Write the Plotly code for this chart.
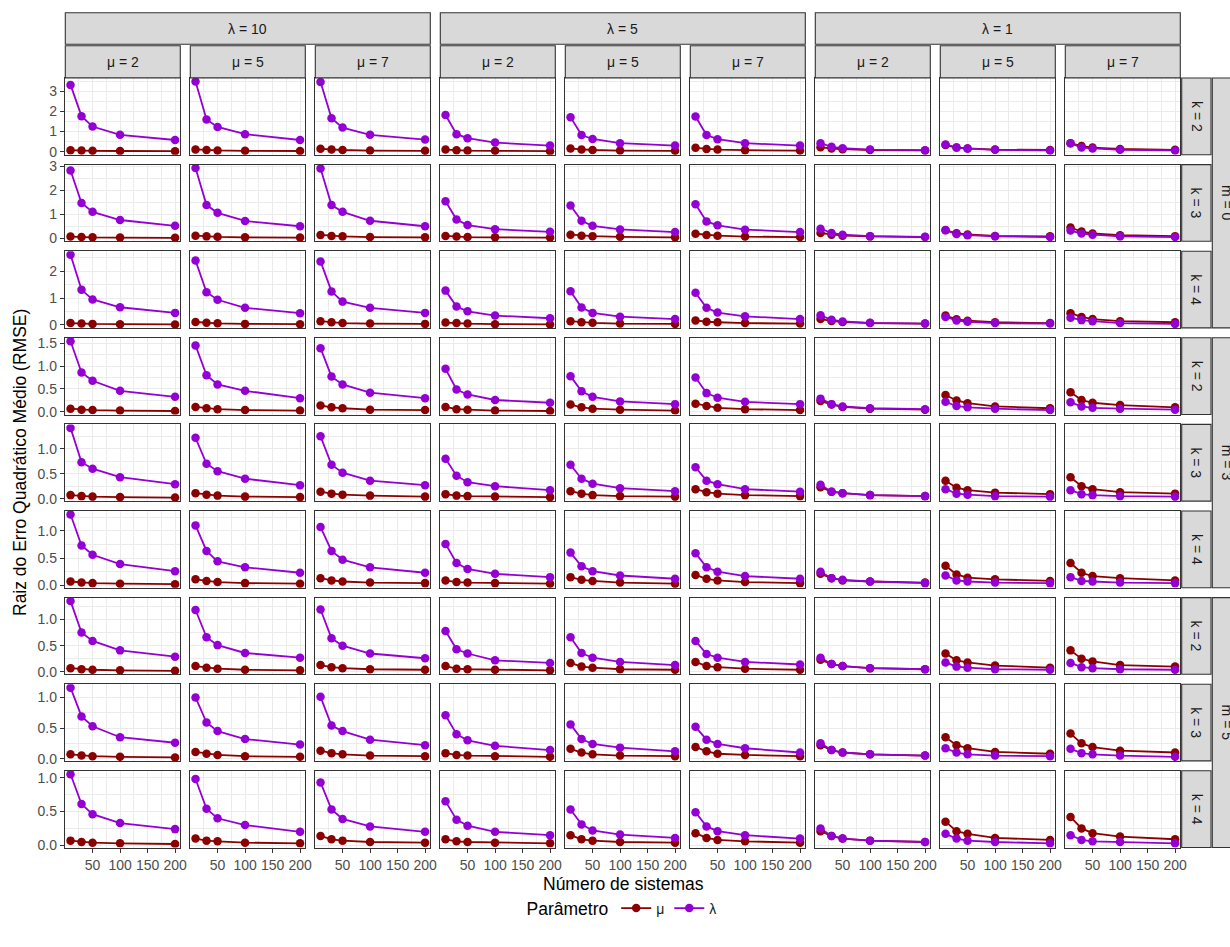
import plotly.graph_objects as go

# ---------------------------------------------------------------------------
# Data: RMSE of the estimators of mu and lambda by number of systems.
# Each array is indexed [row][column][point]; rows follow (m, k) =
# (0,2),(0,3),(0,4),(3,2),(3,3),(3,4),(5,2),(5,3),(5,4); columns follow mu = 2, 5, 7.
# ---------------------------------------------------------------------------
n_sistemas = [10, 30, 50, 100, 200]

lambda_levels = ["10", "5", "1"]
mu_levels = ["2", "5", "7"]
m_levels = ["0", "3", "5"]
k_levels = ["2", "3", "4"]

# lambda = 10
rmse_mu_l10 = [
    [[0.07, 0.05, 0.04, 0.03, 0.02], [0.11, 0.08, 0.06, 0.04, 0.03], [0.14, 0.10, 0.08, 0.05, 0.04]],
    [[0.07, 0.05, 0.04, 0.03, 0.02], [0.11, 0.08, 0.06, 0.04, 0.03], [0.14, 0.10, 0.08, 0.05, 0.04]],
    [[0.07, 0.05, 0.04, 0.03, 0.02], [0.11, 0.08, 0.06, 0.04, 0.03], [0.14, 0.10, 0.07, 0.05, 0.04]],
    [[0.07, 0.05, 0.04, 0.03, 0.02], [0.11, 0.08, 0.06, 0.04, 0.03], [0.14, 0.10, 0.08, 0.05, 0.04]],
    [[0.07, 0.05, 0.04, 0.03, 0.02], [0.11, 0.08, 0.06, 0.04, 0.03], [0.14, 0.10, 0.08, 0.06, 0.04]],
    [[0.07, 0.05, 0.04, 0.03, 0.02], [0.11, 0.08, 0.06, 0.04, 0.03], [0.13, 0.09, 0.07, 0.05, 0.04]],
    [[0.07, 0.05, 0.04, 0.03, 0.02], [0.11, 0.08, 0.06, 0.04, 0.03], [0.13, 0.09, 0.07, 0.05, 0.04]],
    [[0.07, 0.05, 0.04, 0.03, 0.02], [0.11, 0.08, 0.06, 0.04, 0.03], [0.13, 0.09, 0.07, 0.05, 0.04]],
    [[0.07, 0.05, 0.04, 0.03, 0.02], [0.10, 0.07, 0.06, 0.04, 0.03], [0.14, 0.09, 0.07, 0.05, 0.04]],
]
rmse_lam_l10 = [
    [[3.33, 1.77, 1.25, 0.84, 0.58], [3.50, 1.60, 1.23, 0.87, 0.58], [3.48, 1.67, 1.20, 0.84, 0.60]],
    [[2.82, 1.47, 1.10, 0.76, 0.52], [2.92, 1.38, 1.06, 0.72, 0.50], [2.90, 1.38, 1.10, 0.73, 0.50]],
    [[2.62, 1.31, 0.95, 0.66, 0.45], [2.40, 1.22, 0.94, 0.64, 0.44], [2.37, 1.25, 0.87, 0.64, 0.45]],
    [[1.54, 0.86, 0.68, 0.46, 0.33], [1.45, 0.80, 0.60, 0.46, 0.30], [1.39, 0.77, 0.60, 0.42, 0.30]],
    [[1.42, 0.73, 0.60, 0.43, 0.29], [1.22, 0.70, 0.55, 0.40, 0.27], [1.25, 0.68, 0.52, 0.36, 0.27]],
    [[1.30, 0.73, 0.56, 0.39, 0.26], [1.10, 0.63, 0.44, 0.33, 0.23], [1.07, 0.63, 0.47, 0.33, 0.23]],
    [[1.35, 0.75, 0.59, 0.41, 0.29], [1.18, 0.66, 0.51, 0.36, 0.27], [1.19, 0.64, 0.50, 0.35, 0.26]],
    [[1.16, 0.69, 0.53, 0.35, 0.26], [1.00, 0.59, 0.45, 0.32, 0.23], [1.01, 0.54, 0.45, 0.31, 0.22]],
    [[1.05, 0.61, 0.46, 0.33, 0.24], [0.98, 0.54, 0.40, 0.30, 0.20], [0.93, 0.53, 0.39, 0.28, 0.20]],
]

# lambda = 5
rmse_mu_l5 = [
    [[0.10, 0.07, 0.05, 0.04, 0.02], [0.15, 0.10, 0.08, 0.05, 0.04], [0.19, 0.13, 0.10, 0.07, 0.05]],
    [[0.10, 0.07, 0.05, 0.04, 0.03], [0.15, 0.11, 0.09, 0.06, 0.04], [0.19, 0.14, 0.11, 0.07, 0.05]],
    [[0.09, 0.07, 0.05, 0.03, 0.02], [0.14, 0.10, 0.08, 0.05, 0.04], [0.17, 0.12, 0.10, 0.07, 0.05]],
    [[0.11, 0.06, 0.05, 0.03, 0.02], [0.16, 0.10, 0.07, 0.05, 0.03], [0.18, 0.13, 0.09, 0.06, 0.04]],
    [[0.09, 0.06, 0.05, 0.04, 0.03], [0.15, 0.10, 0.07, 0.05, 0.04], [0.19, 0.13, 0.10, 0.07, 0.05]],
    [[0.09, 0.06, 0.05, 0.04, 0.03], [0.15, 0.10, 0.08, 0.05, 0.03], [0.19, 0.12, 0.09, 0.06, 0.04]],
    [[0.11, 0.06, 0.05, 0.04, 0.03], [0.17, 0.10, 0.08, 0.05, 0.04], [0.19, 0.11, 0.09, 0.06, 0.04]],
    [[0.09, 0.06, 0.05, 0.04, 0.03], [0.16, 0.10, 0.07, 0.05, 0.04], [0.19, 0.12, 0.08, 0.06, 0.04]],
    [[0.09, 0.06, 0.05, 0.04, 0.03], [0.15, 0.09, 0.07, 0.05, 0.04], [0.18, 0.11, 0.08, 0.06, 0.04]],
]
rmse_lam_l5 = [
    [[1.83, 0.87, 0.67, 0.45, 0.30], [1.72, 0.83, 0.63, 0.42, 0.30], [1.75, 0.83, 0.62, 0.42, 0.30]],
    [[1.54, 0.78, 0.55, 0.38, 0.27], [1.36, 0.73, 0.52, 0.37, 0.26], [1.42, 0.70, 0.54, 0.36, 0.26]],
    [[1.28, 0.69, 0.51, 0.35, 0.25], [1.26, 0.65, 0.45, 0.31, 0.22], [1.20, 0.64, 0.46, 0.32, 0.22]],
    [[0.94, 0.49, 0.38, 0.26, 0.20], [0.78, 0.45, 0.33, 0.23, 0.17], [0.75, 0.41, 0.31, 0.22, 0.17]],
    [[0.80, 0.46, 0.33, 0.25, 0.17], [0.68, 0.40, 0.30, 0.21, 0.15], [0.63, 0.36, 0.29, 0.19, 0.14]],
    [[0.76, 0.41, 0.30, 0.21, 0.15], [0.60, 0.35, 0.26, 0.18, 0.12], [0.59, 0.33, 0.25, 0.17, 0.12]],
    [[0.78, 0.43, 0.35, 0.22, 0.17], [0.66, 0.36, 0.27, 0.19, 0.13], [0.59, 0.34, 0.27, 0.19, 0.14]],
    [[0.71, 0.40, 0.30, 0.21, 0.14], [0.56, 0.32, 0.24, 0.18, 0.12], [0.52, 0.31, 0.24, 0.17, 0.10]],
    [[0.65, 0.38, 0.29, 0.20, 0.15], [0.53, 0.31, 0.22, 0.16, 0.11], [0.49, 0.28, 0.21, 0.15, 0.10]],
]

# lambda = 1
rmse_mu_l1 = [
    [[0.22, 0.15, 0.12, 0.08, 0.06], [0.33, 0.20, 0.16, 0.10, 0.08], [0.42, 0.28, 0.20, 0.13, 0.09]],
    [[0.22, 0.15, 0.11, 0.08, 0.05], [0.34, 0.21, 0.16, 0.10, 0.08], [0.45, 0.28, 0.20, 0.13, 0.09]],
    [[0.22, 0.15, 0.11, 0.07, 0.05], [0.35, 0.21, 0.16, 0.10, 0.07], [0.44, 0.30, 0.22, 0.14, 0.10]],
    [[0.24, 0.16, 0.11, 0.07, 0.05], [0.37, 0.25, 0.19, 0.12, 0.08], [0.43, 0.26, 0.20, 0.15, 0.10]],
    [[0.23, 0.14, 0.11, 0.07, 0.05], [0.36, 0.22, 0.17, 0.12, 0.09], [0.43, 0.25, 0.19, 0.13, 0.10]],
    [[0.21, 0.13, 0.09, 0.07, 0.05], [0.36, 0.20, 0.14, 0.11, 0.08], [0.41, 0.23, 0.17, 0.13, 0.09]],
    [[0.23, 0.15, 0.11, 0.07, 0.05], [0.35, 0.22, 0.18, 0.12, 0.08], [0.41, 0.25, 0.20, 0.13, 0.10]],
    [[0.22, 0.14, 0.10, 0.07, 0.05], [0.35, 0.22, 0.17, 0.11, 0.08], [0.41, 0.25, 0.19, 0.13, 0.10]],
    [[0.21, 0.14, 0.10, 0.07, 0.05], [0.35, 0.21, 0.17, 0.11, 0.08], [0.42, 0.25, 0.18, 0.13, 0.09]],
]
rmse_lam_l1 = [
    [[0.42, 0.24, 0.17, 0.10, 0.07], [0.36, 0.20, 0.15, 0.09, 0.06], [0.42, 0.20, 0.16, 0.09, 0.06]],
    [[0.40, 0.22, 0.15, 0.09, 0.06], [0.33, 0.18, 0.13, 0.08, 0.05], [0.32, 0.20, 0.15, 0.08, 0.05]],
    [[0.36, 0.19, 0.13, 0.08, 0.05], [0.30, 0.17, 0.12, 0.07, 0.05], [0.27, 0.18, 0.14, 0.07, 0.04]],
    [[0.29, 0.17, 0.12, 0.08, 0.06], [0.22, 0.13, 0.10, 0.07, 0.04], [0.21, 0.12, 0.09, 0.07, 0.05]],
    [[0.28, 0.14, 0.11, 0.07, 0.05], [0.19, 0.10, 0.08, 0.05, 0.04], [0.17, 0.09, 0.07, 0.05, 0.04]],
    [[0.25, 0.13, 0.10, 0.07, 0.04], [0.18, 0.09, 0.07, 0.05, 0.04], [0.15, 0.08, 0.07, 0.05, 0.04]],
    [[0.27, 0.15, 0.11, 0.07, 0.05], [0.18, 0.10, 0.08, 0.05, 0.04], [0.17, 0.09, 0.07, 0.05, 0.04]],
    [[0.25, 0.14, 0.10, 0.07, 0.05], [0.17, 0.10, 0.07, 0.05, 0.04], [0.16, 0.09, 0.07, 0.05, 0.03]],
    [[0.25, 0.14, 0.10, 0.07, 0.05], [0.17, 0.10, 0.07, 0.05, 0.03], [0.15, 0.08, 0.06, 0.05, 0.03]],
]

# y breaks for each facet row (free y scale per row)
y_breaks_by_row = [
    [0, 1, 2, 3], [0, 1, 2, 3], [0, 1, 2],
    [0, 0.5, 1.0, 1.5], [0, 0.5, 1.0, 1.5], [0, 0.5, 1.0, 1.5],
    [0, 0.5, 1.0, 1.5], [0, 0.5, 1.0, 1.5], [0, 0.5, 1.0, 1.5],
]
x_breaks = [50, 100, 150, 200]
x_minor = [25, 75, 125, 175]

series_mu = [rmse_mu_l10, rmse_mu_l5, rmse_mu_l1]
series_lam = [rmse_lam_l10, rmse_lam_l5, rmse_lam_l1]

# ---------------------------------------------------------------------------
# Styling / geometry (pixels in a 1230 x 947 canvas)
# ---------------------------------------------------------------------------
W, H = 1230, 947
FONT = "Liberation Sans, Arial, Helvetica, sans-serif"
COL_MU = "#8B0000"
COL_LAM = "#9400D3"
GRID = "#EBEBEB"
DARK = "#333333"
STRIP_FILL = "#D9D9D9"
SMALL = 14.0     # tick labels, strip labels, legend labels
LARGE = 17.5     # axis titles, legend title

PANEL_LEFT0, PANEL_W, COL_PITCH = 65.3, 115.0, 125.0
PANEL_TOP0, PANEL_H, ROW_PITCH = 78.0, 76.7, 86.6


def px_x(v):
    return v / W


def px_y(v):
    return 1 - v / H


def col_span(c):
    left = PANEL_LEFT0 + c * COL_PITCH
    return left, left + PANEL_W


def row_span(r):
    top = PANEL_TOP0 + r * ROW_PITCH
    return top, top + PANEL_H


# x range with ggplot's 5% expansion
x_lo, x_hi = min(n_sistemas), max(n_sistemas)
x_pad = 0.05 * (x_hi - x_lo)
x_range = [x_lo - x_pad, x_hi + x_pad]

fig = go.Figure()
layout_axes = {}

for r in range(9):
    # free y scale: limits from all values in this row
    vals = []
    for g in range(3):
        for j in range(3):
            vals += series_mu[g][r][j] + series_lam[g][r][j]
    y_lo, y_hi = min(vals), max(vals)
    y_pad = 0.05 * (y_hi - y_lo)
    y_range = [y_lo - y_pad, y_hi + y_pad]
    breaks = y_breaks_by_row[r]
    step = breaks[1] - breaks[0]
    labels = [f"{b:.0f}" if step >= 1 else f"{b:.1f}" for b in breaks]
    minors = [b + step / 2 for b in [breaks[0] - step] + breaks]

    for c in range(9):
        g, j = divmod(c, 3)
        p = r * 9 + c + 1
        xname = "x" if p == 1 else f"x{p}"
        yname = "y" if p == 1 else f"y{p}"
        xl, xr = col_span(c)
        yt, yb = row_span(r)
        bottom = r == 8
        left = c == 0

        layout_axes["xaxis" if p == 1 else f"xaxis{p}"] = dict(
            domain=[px_x(xl), px_x(xr)], anchor=yname, range=x_range,
            tickmode="array", tickvals=x_breaks, ticktext=[str(v) for v in x_breaks],
            showticklabels=bottom, ticks="outside" if bottom else "",
            ticklen=4.4, tickwidth=1.1, tickcolor=DARK,
            tickfont=dict(family=FONT, size=SMALL, color="#4D4D4D"),
            showgrid=True, gridcolor=GRID, gridwidth=1.4,
            minor=dict(tickvals=x_minor, showgrid=True, gridcolor=GRID, gridwidth=0.7, ticks=""),
            showline=True, mirror=True, linecolor=DARK, linewidth=1.2,
            zeroline=False, automargin=False, fixedrange=True,
        )
        layout_axes["yaxis" if p == 1 else f"yaxis{p}"] = dict(
            domain=[px_y(yb), px_y(yt)], anchor=xname, range=y_range,
            tickmode="array", tickvals=breaks, ticktext=labels,
            showticklabels=left, ticks="outside" if left else "",
            ticklen=4.4, tickwidth=1.1, tickcolor=DARK,
            tickfont=dict(family=FONT, size=SMALL, color="#4D4D4D"),
            showgrid=True, gridcolor=GRID, gridwidth=1.4,
            minor=dict(tickvals=minors, showgrid=True, gridcolor=GRID, gridwidth=0.7, ticks=""),
            showline=True, mirror=True, linecolor=DARK, linewidth=1.2,
            zeroline=False, automargin=False, fixedrange=True,
        )

        # lines first, then points on top (as geom_line + geom_point)
        for ys, col in ((series_mu[g][r][j], COL_MU), (series_lam[g][r][j], COL_LAM)):
            fig.add_trace(go.Scatter(
                x=n_sistemas, y=ys, mode="lines", line=dict(color=col, width=1.8),
                xaxis=xname, yaxis=yname, showlegend=False, hoverinfo="skip",
            ))
        for ys, col in ((series_mu[g][r][j], COL_MU), (series_lam[g][r][j], COL_LAM)):
            fig.add_trace(go.Scatter(
                x=n_sistemas, y=ys, mode="markers", marker=dict(color=col, size=8.5),
                xaxis=xname, yaxis=yname, showlegend=False,
            ))

# legend entries
for name, col in (("μ", COL_MU), ("λ", COL_LAM)):
    fig.add_trace(go.Scatter(
        x=[None], y=[None], mode="lines+markers", name=name,
        line=dict(color=col, width=1.8), marker=dict(color=col, size=8.5),
        xaxis="x", yaxis="y", showlegend=True,
    ))

# facet strips
shapes, annotations = [], []


def strip(x0, x1, y0, y1, text, angle=0):
    shapes.append(dict(type="rect", xref="paper", yref="paper",
                       x0=px_x(x0), x1=px_x(x1), y0=px_y(y1), y1=px_y(y0),
                       fillcolor=STRIP_FILL, line=dict(color=DARK, width=1.1), layer="above"))
    annotations.append(dict(xref="paper", yref="paper", x=px_x((x0 + x1) / 2), y=px_y((y0 + y1) / 2),
                            text=text, showarrow=False, textangle=angle,
                            font=dict(family=FONT, size=SMALL, color="#1A1A1A"),
                            xanchor="center", yanchor="middle"))


for g in range(3):
    xl, _ = col_span(3 * g)
    _, xr = col_span(3 * g + 2)
    strip(xl, xr, 12.7, 44.3, f"λ = {lambda_levels[g]}")
    for j in range(3):
        a, b = col_span(3 * g + j)
        strip(a, b, 45.7, 77.9, f"μ = {mu_levels[j]}")

for i in range(3):
    yt, _ = row_span(3 * i)
    _, yb = row_span(3 * i + 2)
    strip(1212.3, 1241.6, yt, yb, f"m = {m_levels[i]}", angle=90)
    for kk in range(3):
        a, b = row_span(3 * i + kk)
        strip(1181.7, 1211.0, a, b, f"k = {k_levels[kk]}", angle=90)

# axis titles
annotations.append(dict(xref="paper", yref="paper", x=px_x(623), y=px_y(884),
                        text="Número de sistemas", showarrow=False,
                        font=dict(family=FONT, size=LARGE, color="black"),
                        xanchor="center", yanchor="middle"))
annotations.append(dict(xref="paper", yref="paper", x=px_x(20), y=px_y(463),
                        text="Raiz do Erro Quadrático Médio (RMSE)", showarrow=False, textangle=-90,
                        font=dict(family=FONT, size=LARGE, color="black"),
                        xanchor="center", yanchor="middle"))

fig.update_layout(
    width=W, height=H,
    margin=dict(l=0, r=0, t=0, b=0, autoexpand=False),
    paper_bgcolor="white", plot_bgcolor="white",
    font=dict(family=FONT),
    shapes=shapes, annotations=annotations,
    legend=dict(
        orientation="h", x=px_x(623), xanchor="center", y=px_y(909), yanchor="middle",
        title=dict(text="Parâmetro", side="left", font=dict(family=FONT, size=LARGE, color="black")),
        font=dict(family=FONT, size=SMALL, color="#1A1A1A"),
        bgcolor="rgba(0,0,0,0)", itemwidth=30, tracegroupgap=0,
    ),
    **layout_axes,
)

fig.write_html("out.html")
